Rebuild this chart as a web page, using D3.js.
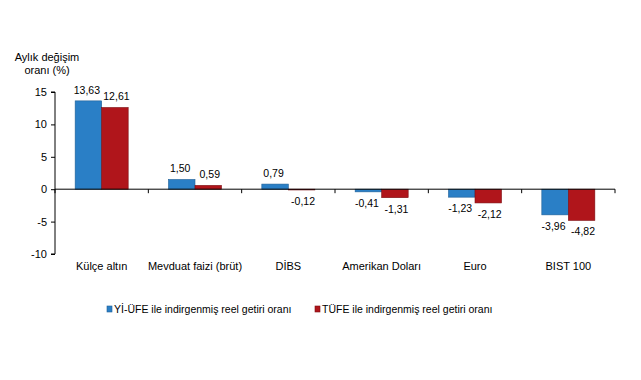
<!DOCTYPE html>
<html><head><meta charset="utf-8">
<script src="https://cdn.jsdelivr.net/npm/d3@7"></script>
<style>body{margin:0;background:#fff}svg{display:block}text{font-family:"Liberation Sans",Arial,sans-serif;fill:#000}</style>
</head><body><svg id="c" width="641" height="380"></svg>
<script>
const categories = ["Külçe altın","Mevduat faizi (brüt)","DİBS","Amerikan Doları","Euro","BIST 100"];
const seriesNames = ["Yİ-ÜFE ile indirgenmiş reel getiri oranı","TÜFE ile indirgenmiş reel getiri oranı"];
const yiufe = [13.63,1.50,0.79,-0.41,-1.23,-3.96];
const tufe = [12.61,0.59,-0.12,-1.31,-2.12,-4.82];
const yTicks = [15,10,5,0,-5,-10];
const colors = ["#2a7fc6","#b0151b"];
const strokes = ["#1f5f96","#7d0f13"];

const svg = d3.select("#c");
const x = d3.scaleBand().domain(categories).range([55,615]).paddingInner(0).paddingOuter(0);
const y = d3.scaleLinear().domain([-10,15]).range([254,92]);
const x1 = d3.scaleBand().domain([0,1]).range([0,x.bandwidth()]).paddingInner(0).paddingOuter(0.76);
const fmt = v => v.toFixed(2).replace(".",",");

// y axis
const ya = svg.append("g").attr("transform","translate(55,0)")
  .call(d3.axisLeft(y).tickValues(yTicks).tickSize(4).tickPadding(4).tickFormat(d=>d));
ya.select(".domain").attr("stroke","#000").attr("d","M-4,"+y(15)+"H0V"+y(-10)+"H-4");
ya.selectAll("text").style("font-size","11px").style("font-family","Liberation Sans, Arial, sans-serif");

// bars
const series = [yiufe,tufe];
series.forEach((vals,si)=>{
  svg.append("g").selectAll("rect").data(vals).join("rect")
    .attr("x",(d,i)=>x(categories[i])+x1(si))
    .attr("width",x1.bandwidth())
    .attr("y",d=>y(Math.max(0,d)))
    .attr("height",d=>Math.abs(y(d)-y(0)))
    .attr("fill",colors[si]).attr("stroke",strokes[si]).attr("stroke-width",0.6);
  svg.append("g").selectAll("text").data(vals).join("text")
    .attr("x",(d,i)=>x(categories[i])+x1(si)+x1.bandwidth()/2+(si===0?-1.5:1.5))
    .attr("y",d=>d>=0? y(d)-7 : y(d)+15)
    .attr("text-anchor","middle").style("font-size","10.5px").text(fmt);
});

// x axis
const xa = svg.append("g").attr("transform","translate(0,"+y(0)+")");
xa.append("line").attr("x1",55).attr("x2",615).attr("stroke","#000");
xa.selectAll(".t").data(categories.map((c,i)=>x(c)+x.bandwidth()).concat([55])).join("line")
  .attr("x1",d=>d).attr("x2",d=>d).attr("y1",0).attr("y2",4).attr("stroke","#000");

svg.append("g").selectAll("text").data(categories).join("text")
  .attr("x",d=>x(d)+x.bandwidth()/2).attr("y",270).attr("text-anchor","middle")
  .style("font-size","11px").text(d=>d);

// y title
svg.append("text").attr("x",47).attr("y",61).attr("text-anchor","middle").style("font-size","11px").text("Aylık değişim");
svg.append("text").attr("x",47).attr("y",74).attr("text-anchor","middle").style("font-size","11px").text("oranı (%)");

// legend
const lx = [107,315];
seriesNames.forEach((n,i)=>{
  svg.append("rect").attr("x",lx[i]).attr("y",306).attr("width",5).attr("height",6)
    .attr("fill",colors[i]).attr("stroke",strokes[i]).attr("stroke-width",0.6);
  svg.append("text").attr("x",lx[i]+7).attr("y",313).style("font-size","10.5px").text(n);
});
</script></body></html>
